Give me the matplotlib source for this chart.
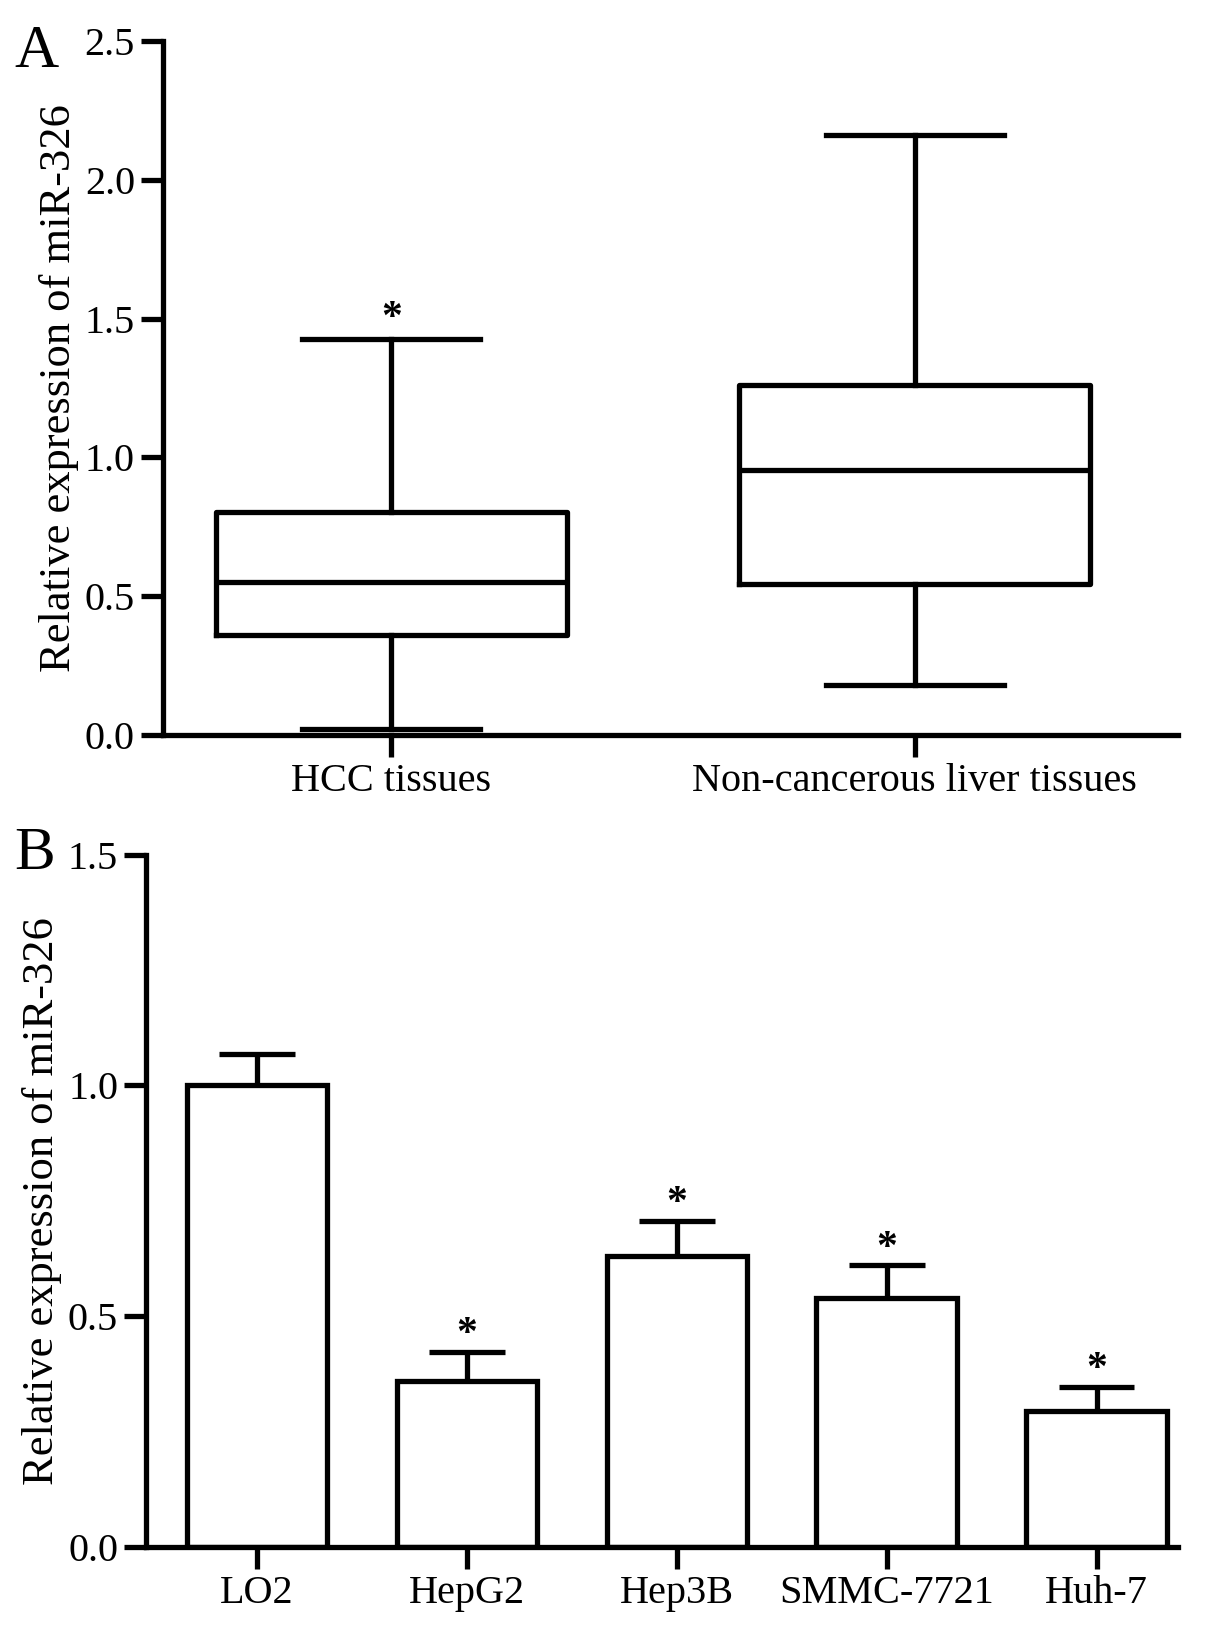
import numpy as np
import matplotlib
matplotlib.use("Agg")
import matplotlib.pyplot as plt

plt.rcParams['font.family'] = ['Liberation Serif', 'DejaVu Serif']

# panel A: box plot summaries
groups_a = ['HCC tissues', 'Non-cancerous liver tissues']
whislo_a = [0.02, 0.18]
q1_a = [0.36, 0.545]
med_a = [0.55, 0.955]
q3_a = [0.805, 1.26]
whishi_a = [1.425, 2.16]
star_a = [True, False]

# panel B: bar means and upper error
cells_b = ['LO2', 'HepG2', 'Hep3B', 'SMMC-7721', 'Huh-7']
mean_b = [1.0, 0.36, 0.63, 0.54, 0.295]
err_b = [0.068, 0.063, 0.076, 0.07, 0.052]
star_b = [False, True, True, True, True]

lw = 3.8
fig = plt.figure(figsize=(12.05, 16.37), dpi=100)

# ---- A
ax = fig.add_axes([0.135, 0.551, 0.843, 0.424])
stats = []
for i in range(len(groups_a)):
    stats.append(dict(whislo=whislo_a[i], q1=q1_a[i], med=med_a[i],
                      q3=q3_a[i], whishi=whishi_a[i], fliers=[]))
pos_a = np.arange(1, len(groups_a) + 1)
ax.bxp(stats, positions=pos_a, widths=0.67, showfliers=False,
       boxprops=dict(lw=lw, color='black'),
       medianprops=dict(lw=lw, color='black'),
       whiskerprops=dict(lw=lw, color='black'),
       capprops=dict(lw=lw, color='black'), capwidths=0.34)
for p, s, hi in zip(pos_a, star_a, whishi_a):
    if s:
        ax.text(p, hi + 0.005, '*', ha='center', va='bottom', fontsize=30,
                fontweight='bold')
ax.set_xlim(0.563, 2.504)
ax.set_ylim(0, 2.5)
ax.set_yticks(np.arange(0, 2.51, 0.5))
ax.set_yticklabels(['%.1f' % v for v in np.arange(0, 2.51, 0.5)])
ax.set_xticks(pos_a)
ax.set_xticklabels(groups_a)
ax.set_ylabel('Relative expression of miR-326', fontsize=32, labelpad=4)
fig.text(0.012, 0.968, 'A', fontsize=44, va='center')

# ---- B
bx = fig.add_axes([0.121, 0.055, 0.857, 0.423])
pos_b = np.arange(len(cells_b))
bx.bar(pos_b, mean_b, width=0.67, color='white', edgecolor='black', lw=lw, zorder=2)
bx.errorbar(pos_b, mean_b, yerr=[np.zeros(len(err_b)), err_b], fmt='none',
            ecolor='black', elinewidth=lw, capsize=0, zorder=1)
bx.hlines(np.array(mean_b) + np.array(err_b), pos_b - 0.18, pos_b + 0.18,
          color='black', lw=lw)
for p, s, m, e in zip(pos_b, star_b, mean_b, err_b):
    if s:
        bx.text(p, m + e - 0.005, '*', ha='center', va='bottom', fontsize=30,
                fontweight='bold')
bx.set_xlim(-0.53, 4.39)
bx.set_ylim(0, 1.5)
bx.set_yticks(np.arange(0, 1.51, 0.5))
bx.set_yticklabels(['%.1f' % v for v in np.arange(0, 1.51, 0.5)])
bx.set_xticks(pos_b)
bx.set_xticklabels(cells_b)
bx.set_ylabel('Relative expression of miR-326', fontsize=32, labelpad=4)
fig.text(0.012, 0.478, 'B', fontsize=44, va='center')

for a in (ax, bx):
    a.spines['top'].set_visible(False)
    a.spines['right'].set_visible(False)
    a.spines['left'].set_linewidth(lw)
    a.spines['bottom'].set_linewidth(lw)
    a.tick_params(axis='both', direction='out', length=16, width=lw,
                  labelsize=29, pad=4)

fig.savefig('out.png', dpi=100)
